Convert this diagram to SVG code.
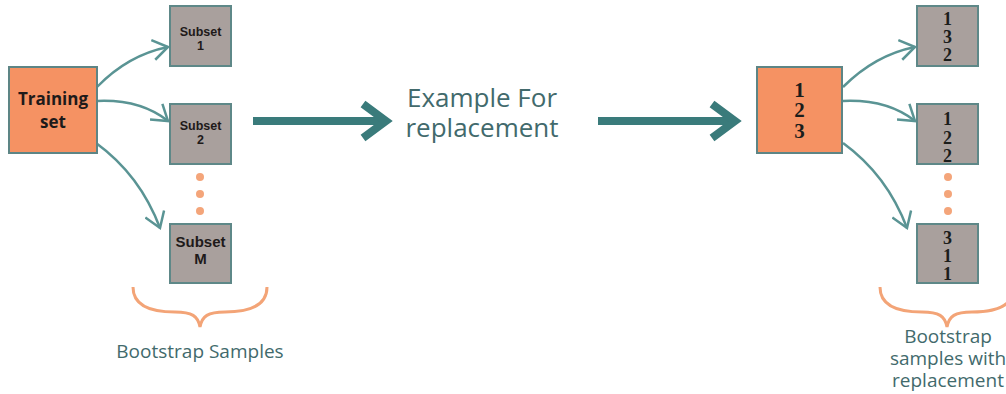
<svg xmlns="http://www.w3.org/2000/svg" width="1006" height="394" viewBox="0 0 1006 394">
<style>
.orange{fill:#f59263;stroke:#5d8585;stroke-width:2}
.gray{fill:#a9a09d;stroke:#5e8888;stroke-width:2}
.lbl{font-family:"Open Sans","Liberation Sans",sans-serif;font-weight:bold;fill:#1e1a1a;text-anchor:middle}
.sub{font-family:"Liberation Sans",Arial,sans-serif;font-weight:bold;fill:#1e1a1a;text-anchor:middle}
.num{font-family:"Liberation Serif",serif;font-weight:bold;fill:#1b1d1b;text-anchor:middle}
.cap{font-family:"Open Sans","Liberation Sans",sans-serif;fill:#426a6c;text-anchor:middle}
.curve{fill:none;stroke:#5a9494;stroke-width:2.5;marker-end:url(#open)}
.big{fill:none;stroke:#3a7b7b;stroke-width:8}
.dot{fill:#f4a57a}
.brace{fill:none;stroke:#f3a477;stroke-width:3}
</style>
<defs>
<marker id="open" markerUnits="userSpaceOnUse" markerWidth="18" markerHeight="22" viewBox="0 0 18 22" refX="16" refY="11" orient="auto">
<path d="M1,1 L16,11 L1,21" fill="none" stroke="#5a9494" stroke-width="2.5"/>
</marker>
</defs>
<rect width="1006" height="394" fill="#ffffff"/>
<g id="connectors">
<path class="curve" d="M97,87 Q128,55 168,47"/>
<path class="curve" d="M97,101 Q140,99 168,121"/>
<path class="curve" d="M96,143 Q140,175 160,228"/>
<path class="curve" d="M843,87 Q875,55 915,47"/>
<path class="curve" d="M843,101 Q887,99 915,121"/>
<path class="curve" d="M843,143 Q887,175 907,228"/>
<path class="big" d="M253,121 L384,121"/>
<path class="big" d="M363,104 L386,121 L363,138" stroke-linejoin="miter"/>
<path class="big" d="M598,121 L733,121"/>
<path class="big" d="M712,104 L735,121 L712,138" stroke-linejoin="miter"/>
</g>
<g id="training-set">
<rect class="orange" x="9" y="67" width="88" height="86"/>
<text class="lbl" x="53" y="105" font-size="17">Training</text>
<text class="lbl" x="53" y="128" font-size="17">set</text>
</g>
<g id="subset-1">
<rect class="gray" x="170" y="6" width="61" height="60"/>
<text class="sub" x="200.5" y="36" font-size="12.5">Subset</text>
<text class="sub" x="200.5" y="50" font-size="12.5">1</text>
</g>
<g id="subset-2">
<rect class="gray" x="170" y="104" width="61" height="60"/>
<text class="sub" x="200.5" y="130" font-size="12.5">Subset</text>
<text class="sub" x="200.5" y="144" font-size="12.5">2</text>
</g>
<g id="dots-left">
<circle class="dot" cx="200" cy="177" r="4"/>
<circle class="dot" cx="200" cy="194" r="4"/>
<circle class="dot" cx="200" cy="211" r="4"/>
</g>
<g id="subset-m">
<rect class="gray" x="170" y="224" width="61" height="59"/>
<text class="sub" x="200.5" y="247" font-size="15">Subset</text>
<text class="sub" x="200.5" y="264" font-size="15">M</text>
</g>
<g id="brace-left">
<path class="brace" d="M133,287 C133,305 150,312 175,312 C192,312 198,316 200,327 C202,316 208,312 225,312 C250,312 267,305 267,287"/>
<text class="cap" x="200" y="358" font-size="19">Bootstrap Samples</text>
</g>
<g id="example-label">
<text class="cap" x="482" y="107" font-size="26">Example For</text>
<text class="cap" x="482" y="137" font-size="26">replacement</text>
</g>
<g id="set-123">
<rect class="orange" x="757" y="67" width="85" height="86"/>
<text class="num" x="799.5" y="97" font-size="21">1</text>
<text class="num" x="799.5" y="117" font-size="21">2</text>
<text class="num" x="799.5" y="138" font-size="21">3</text>
</g>
<g id="sample-132">
<rect class="gray" x="917" y="6" width="61" height="60"/>
<text class="num" x="947.5" y="25" font-size="18">1</text>
<text class="num" x="947.5" y="43" font-size="18">3</text>
<text class="num" x="947.5" y="61" font-size="18">2</text>
</g>
<g id="sample-122">
<rect class="gray" x="917" y="104" width="61" height="60"/>
<text class="num" x="947.5" y="125" font-size="18">1</text>
<text class="num" x="947.5" y="144" font-size="18">2</text>
<text class="num" x="947.5" y="162" font-size="18">2</text>
</g>
<g id="dots-right">
<circle class="dot" cx="948" cy="177" r="4"/>
<circle class="dot" cx="948" cy="194" r="4"/>
<circle class="dot" cx="948" cy="211" r="4"/>
</g>
<g id="sample-311">
<rect class="gray" x="917" y="224" width="61" height="59"/>
<text class="num" x="947.5" y="244" font-size="18">3</text>
<text class="num" x="947.5" y="262" font-size="18">1</text>
<text class="num" x="947.5" y="280" font-size="18">1</text>
</g>
<g id="brace-right">
<path class="brace" d="M880,287 C880,305 897,312 922,312 C939,312 945,316 947,327 C949,316 955,312 972,312 C997,312 1014,305 1014,287"/>
<text class="cap" x="948" y="343" font-size="19">Bootstrap</text>
<text class="cap" x="948" y="365" font-size="19">samples with</text>
<text class="cap" x="948" y="387" font-size="19">replacement</text>
</g>
</svg>
